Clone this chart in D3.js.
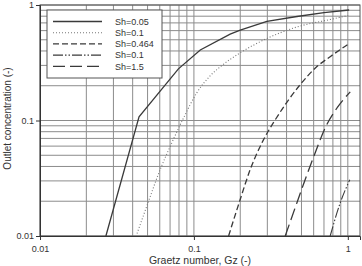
<!DOCTYPE html>
<html>
<head>
<meta charset="utf-8">
<script src="https://cdn.jsdelivr.net/npm/d3@7"></script>
<style>
  html, body { margin: 0; padding: 0; background: #fff; }
  svg { display: block; font-family: "Liberation Sans", Arial, sans-serif; }
</style>
</head>
<body>
<svg id="chart"></svg>
<script>
// Series labels as printed in the legend
const seriesNames = ['Sh=0.05', 'Sh=0.1', 'Sh=0.464', 'Sh=0.1', 'Sh=1.5'];

// Graetz number (x) and outlet concentration (y) for each curve
const gzSh005 = [0.0268, 0.0440, 0.0793, 0.110, 0.172, 0.200, 0.298, 0.467, 0.700, 1.02];
const cSh005  = [0.0100, 0.1076, 0.280, 0.408, 0.560, 0.605, 0.720, 0.795, 0.860, 0.905];

const gzSh01 = [0.0427, 0.0506, 0.0603, 0.0700, 0.0851, 0.1044, 0.1274, 0.148, 0.1996, 0.298, 0.467, 0.768, 1.006];
const cSh01  = [0.0105, 0.0198, 0.0375, 0.0593, 0.1034, 0.1736, 0.2434, 0.291, 0.385, 0.513, 0.645, 0.749, 0.811];

const gzSh0464 = [0.168, 0.1996, 0.232, 0.283, 0.337, 0.490, 0.630, 0.768, 1.03];
const cSh0464  = [0.0100, 0.0206, 0.0375, 0.068, 0.101, 0.204, 0.293, 0.357, 0.467];

const gzSh01b = [0.768, 0.892, 1.03];
const cSh01b  = [0.0100, 0.0193, 0.0307];

const gzSh15 = [0.392, 0.455, 0.528, 0.614, 0.713, 0.853, 1.037];
const cSh15  = [0.0100, 0.0176, 0.0307, 0.0526, 0.0865, 0.129, 0.177];

// Axis ticks and grid
const xTicks = [0.01, 0.1, 1];
const yTicks = [0.01, 0.1, 1];
const gridValues = [0.01, 0.02, 0.03, 0.04, 0.05, 0.06, 0.07, 0.08, 0.09,
                    0.1, 0.2, 0.3, 0.4, 0.5, 0.6, 0.7, 0.8, 0.9, 1];

const width = 362, height = 266;
const margin = { top: 5, right: 2, bottom: 30, left: 40 };

const svg = d3.select('#chart').attr('width', width).attr('height', height);

const x = d3.scaleLog().domain([0.01, 1.2]).range([margin.left, width - margin.right]);
const y = d3.scaleLog().domain([0.01, 1]).range([height - margin.bottom, margin.top]);

const gridColor = '#8c8c8c';
const inkColor = '#3a3a3a';

// Grid lines
svg.append('g').selectAll('line')
    .data(gridValues)
    .enter().append('line')
    .attr('x1', d => x(d)).attr('x2', d => x(d))
    .attr('y1', y(1)).attr('y2', y(0.01))
    .attr('stroke', gridColor).attr('stroke-width', 1);

svg.append('g').selectAll('line')
    .data(gridValues)
    .enter().append('line')
    .attr('x1', x(0.01)).attr('x2', x(1.2))
    .attr('y1', d => y(d)).attr('y2', d => y(d))
    .attr('stroke', gridColor).attr('stroke-width', 1);

// Frame
svg.append('rect')
    .attr('x', x(0.01)).attr('y', y(1))
    .attr('width', x(1.2) - x(0.01)).attr('height', y(0.01) - y(1))
    .attr('fill', 'none').attr('stroke', '#555').attr('stroke-width', 1);

// Axes
const xAxis = svg.append('g')
    .attr('transform', `translate(0,${y(0.01)})`)
    .call(d3.axisBottom(x).tickValues(xTicks).tickFormat(d3.format('')).tickSize(4).tickPadding(6));
const yAxis = svg.append('g')
    .attr('transform', `translate(${x(0.01)},0)`)
    .call(d3.axisLeft(y).tickValues(yTicks).tickFormat(d3.format('')).tickSize(4).tickPadding(2));

[xAxis, yAxis].forEach(a => {
    a.select('.domain').attr('stroke', '#333');
    a.selectAll('.tick line').attr('stroke', '#333');
    a.selectAll('.tick text')
        .attr('fill', '#333')
        .style('font-size', '9px')
        .style('font-family', '"Liberation Sans", Arial, sans-serif');
});

// Axis titles
svg.append('text')
    .attr('x', (x(0.01) + x(1.2)) / 2)
    .attr('y', 264)
    .attr('text-anchor', 'middle')
    .attr('fill', '#333')
    .style('font-size', '10.5px')
    .text('Graetz number, Gz (-)');

svg.append('text')
    .attr('transform', `translate(11,${(y(1) + y(0.01)) / 2 - 2}) rotate(-90)`)
    .attr('text-anchor', 'middle')
    .attr('fill', '#333')
    .style('font-size', '10px')
    .text('Outlet concentration (-)');

// Curves
const styles = [
    { dash: null, color: inkColor, w: 1.3, curve: d3.curveLinear },
    { dash: '1,2', color: '#777', w: 1.1, curve: d3.curveMonotoneX },
    { dash: '6,3', color: inkColor, w: 1.3, curve: d3.curveMonotoneX },
    { dash: '10,2,1.5,2,1.5,2', color: inkColor, w: 1.1, curve: d3.curveMonotoneX },
    { dash: '12,5', color: inkColor, w: 1.3, curve: d3.curveMonotoneX }
];

const seriesData = [
    d3.zip(gzSh005, cSh005),
    d3.zip(gzSh01, cSh01),
    d3.zip(gzSh0464, cSh0464),
    d3.zip(gzSh01b, cSh01b),
    d3.zip(gzSh15, cSh15)
];

svg.append('g').selectAll('path')
    .data(seriesData)
    .enter().append('path')
    .attr('d', (d, i) => d3.line()
        .x(p => x(p[0]))
        .y(p => y(p[1]))
        .curve(styles[i].curve)(d))
    .attr('fill', 'none')
    .attr('stroke', (d, i) => styles[i].color)
    .attr('stroke-width', (d, i) => styles[i].w)
    .attr('stroke-dasharray', (d, i) => styles[i].dash);

// Legend
const legend = svg.append('g');
legend.append('rect')
    .attr('x', 47).attr('y', 10)
    .attr('width', 115).attr('height', 68)
    .attr('fill', '#fff').attr('stroke', '#555').attr('stroke-width', 1);

const rows = legend.selectAll('g.row')
    .data(seriesNames)
    .enter().append('g')
    .attr('class', 'row')
    .attr('transform', (d, i) => `translate(0,${21.5 + i * 11.2})`);

rows.append('line')
    .attr('x1', 53).attr('x2', 102)
    .attr('stroke', (d, i) => styles[i].color)
    .attr('stroke-width', (d, i) => styles[i].w)
    .attr('stroke-dasharray', (d, i) => styles[i].dash);

rows.append('text')
    .attr('x', 115).attr('y', 3.3)
    .attr('fill', '#333')
    .style('font-size', '9px')
    .text(d => d);
</script>
</body>
</html>
